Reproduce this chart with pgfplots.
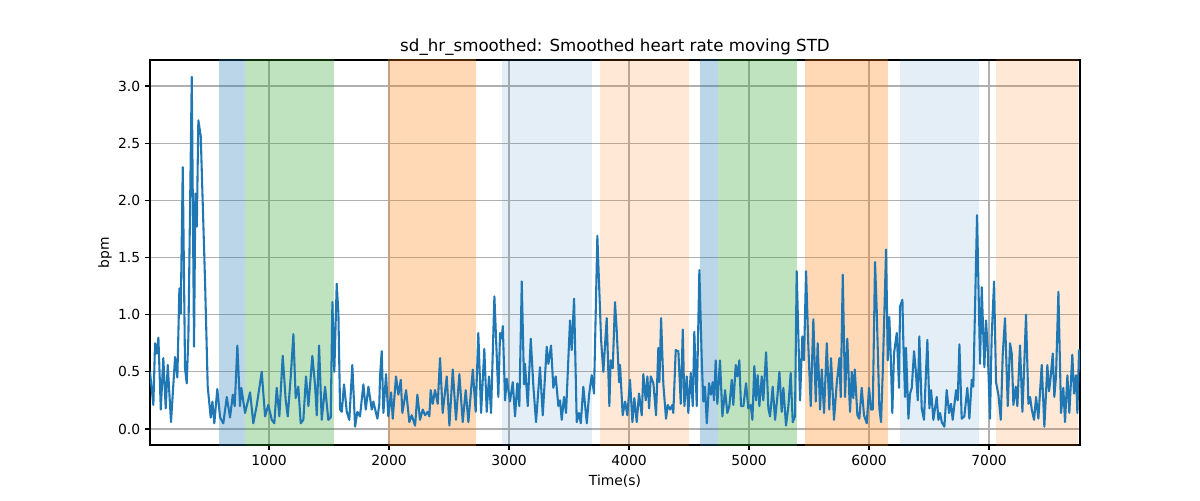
\documentclass[border=0pt]{standalone}
\usepackage{pgfplots}
\pgfplotsset{compat=1.18}
\usepackage{fontspec}
\setmainfont{DejaVu Sans}
\definecolor{tabblue}{HTML}{1F77B4}
\definecolor{tabgreen}{HTML}{2CA02C}
\definecolor{taborange}{HTML}{FF7F0E}
\definecolor{gridgray}{HTML}{B0B0B0}
\begin{document}
\begin{tikzpicture}
\path[use as bounding box] (-108pt,-39.6pt) rectangle (756pt,320.4pt);
\begin{axis}[
  at={(0,0)}, anchor=south west,
  scale only axis, width=669.6pt, height=277.2pt,
  xmin=8, xmax=7758, ymin=-0.14, ymax=3.227,
  xtick={1000,2000,3000,4000,5000,6000,7000},
  ytick={0,0.5,1,1.5,2,2.5,3},
  /pgf/number format/assume math mode=true,
  xticklabel style={/pgf/number format/1000 sep={}, font=\fontsize{10}{12}\selectfont},
  yticklabel style={/pgf/number format/.cd, fixed, fixed zerofill, precision=1, /tikz/.cd, font=\fontsize{10}{12}\selectfont},
  tick align=outside, major tick length=3.5pt,
  tick style={black, line width=0.8pt},
  xtick pos=bottom, ytick pos=left,
  grid=major, major grid style={gridgray, line width=0.8pt},
  axis line style={black, line width=0.8pt},
  xlabel={Time(s)}, ylabel={bpm},
  every axis x label/.style={at={(axis description cs:0.5,-0.0935)}, anchor=center, font=\fontsize{10}{12}\selectfont},
  every axis y label/.style={at={(axis description cs:-0.0484,0.5)}, anchor=center, rotate=90, font=\fontsize{10}{12}\selectfont},
  title={sd\_hr\_smoothed: Smoothed heart rate moving STD},
  every axis title/.style={at={(axis description cs:0.5,1)}, anchor=base, yshift=6pt, font=\fontsize{12}{14}\selectfont},
]
% shaded bands
\addplot[draw=none, fill=tabblue, fill opacity=0.3] coordinates {(583,-1) (583,4) (803,4) (803,-1)} -- cycle;
\addplot[draw=none, fill=tabgreen, fill opacity=0.3] coordinates {(803,-1) (803,4) (1539,4) (1539,-1)} -- cycle;
\addplot[draw=none, fill=taborange, fill opacity=0.3] coordinates {(1988,-1) (1988,4) (2722,4) (2722,-1)} -- cycle;
\addplot[draw=none, fill=tabblue, fill opacity=0.12] coordinates {(2942,-1) (2942,4) (3689,4) (3689,-1)} -- cycle;
\addplot[draw=none, fill=taborange, fill opacity=0.17] coordinates {(3758,-1) (3758,4) (4500,4) (4500,-1)} -- cycle;
\addplot[draw=none, fill=tabblue, fill opacity=0.3] coordinates {(4592,-1) (4592,4) (4744,4) (4744,-1)} -- cycle;
\addplot[draw=none, fill=tabgreen, fill opacity=0.3] coordinates {(4744,-1) (4744,4) (5403,4) (5403,-1)} -- cycle;
\addplot[draw=none, fill=taborange, fill opacity=0.3] coordinates {(5467,-1) (5467,4) (6156,4) (6156,-1)} -- cycle;
\addplot[draw=none, fill=tabblue, fill opacity=0.12] coordinates {(6258,-1) (6258,4) (6917,4) (6917,-1)} -- cycle;
\addplot[draw=none, fill=taborange, fill opacity=0.17] coordinates {(7056,-1) (7056,4) (7745,4) (7745,-1)} -- cycle;
% series
\addplot[tabblue, line width=1.5pt, line join=round, mark=none] table {
x y
8 0.50
36 0.21
50 0.75
64 0.66
78 0.80
98 0.17
119 0.62
139 0.18
156 0.56
183 0.06
217 0.63
236 0.45
253 1.23
264 1.01
281 2.29
300 0.53
314 0.40
328 0.81
356 3.08
375 0.72
386 2.06
398 1.77
411 2.70
431 2.56
467 1.28
489 0.37
514 0.10
528 0.24
544 0.05
569 0.35
592 0.10
619 0.05
648 0.28
675 0.10
698 0.30
714 0.20
736 0.73
758 0.20
769 0.36
800 0.14
842 0.32
869 0.05
898 0.21
939 0.50
967 0.11
994 0.21
1023 0.08
1044 0.05
1064 0.36
1086 0.11
1114 0.64
1139 0.25
1156 0.11
1181 0.46
1203 0.83
1222 0.27
1244 0.37
1264 0.05
1286 0.08
1308 0.46
1328 0.20
1361 0.64
1383 0.39
1398 0.12
1417 0.73
1439 0.08
1467 0.37
1494 0.08
1514 0.10
1528 1.11
1544 0.50
1564 1.27
1578 1.01
1592 0.17
1606 0.15
1625 0.39
1648 0.15
1669 0.08
1694 0.56
1717 0.02
1736 0.15
1758 0.11
1786 0.39
1806 0.17
1828 0.37
1856 0.17
1869 0.24
1903 0.09
1919 0.22
1925 0.46
1939 0.68
1953 0.14
1975 0.48
1994 0.11
2017 0.32
2031 0.09
2058 0.46
2078 0.30
2098 0.43
2111 0.14
2142 0.34
2169 0.06
2189 0.12
2217 0.03
2236 0.30
2258 0.08
2281 0.17
2300 0.12
2322 0.15
2336 0.11
2347 0.34
2364 0.22
2383 0.34
2406 0.22
2425 0.62
2447 0.14
2481 0.46
2503 0.03
2531 0.52
2558 0.08
2586 0.48
2614 0.06
2639 0.34
2661 0.06
2698 0.52
2722 0.15
2744 0.84
2767 0.14
2794 0.70
2814 0.15
2833 0.46
2850 0.14
2878 1.16
2911 0.28
2925 0.84
2939 0.79
2948 0.90
2967 0.25
2981 0.44
3008 0.24
3031 0.41
3050 0.11
3069 0.40
3086 0.20
3106 1.29
3125 0.39
3133 0.57
3156 0.20
3181 0.79
3203 0.37
3225 0.06
3258 0.54
3281 0.12
3314 0.72
3328 0.57
3350 0.73
3369 0.36
3389 0.46
3411 0.20
3425 0.25
3439 0.08
3458 0.28
3475 0.14
3508 0.95
3522 0.69
3542 1.14
3564 0.06
3583 0.14
3598 0.05
3619 0.37
3648 0.05
3667 0.30
3689 0.47
3708 0.31
3736 1.69
3767 0.78
3786 0.50
3814 0.97
3836 0.20
3847 0.60
3864 0.53
3883 1.11
3897 0.87
3917 0.41
3925 0.56
3947 0.12
3967 0.24
3986 0.12
4008 0.43
4028 0.06
4044 0.27
4064 0.06
4083 0.31
4106 0.12
4119 0.48
4139 0.25
4153 0.46
4167 0.18
4181 0.46
4203 0.40
4225 0.12
4244 0.71
4253 0.41
4267 0.97
4286 0.39
4308 0.09
4323 0.21
4342 0.17
4361 0.21
4369 0.14
4389 0.69
4411 0.68
4431 0.22
4448 0.87
4461 0.20
4481 0.46
4494 0.14
4514 0.49
4531 0.20
4544 0.85
4564 0.20
4586 1.39
4606 0.60
4619 0.24
4633 0.37
4648 0.05
4667 0.40
4683 0.30
4697 0.41
4708 0.25
4722 0.60
4736 0.22
4758 0.60
4778 0.11
4800 0.34
4819 0.14
4836 0.20
4856 0.43
4869 0.21
4889 0.56
4903 0.46
4919 0.60
4933 0.20
4953 0.20
4975 0.40
4994 0.18
5014 0.21
5028 0.08
5044 0.55
5058 0.25
5072 0.47
5086 0.20
5106 0.46
5119 0.25
5142 0.67
5161 0.18
5175 0.11
5197 0.37
5217 0.08
5236 0.28
5253 0.50
5272 0.15
5286 0.36
5308 0.03
5328 0.20
5347 0.49
5364 0.06
5383 0.11
5397 1.38
5425 0.25
5444 0.81
5458 0.60
5475 1.38
5494 0.73
5514 0.20
5536 0.96
5556 0.24
5572 0.75
5592 0.17
5606 0.52
5625 0.14
5648 0.75
5669 0.17
5683 0.62
5708 0.08
5731 0.40
5753 0.62
5764 0.28
5781 1.35
5800 0.28
5819 0.79
5836 0.28
5842 0.15
5856 0.50
5869 0.27
5881 0.52
5903 0.12
5919 0.09
5939 0.36
5958 0.12
5981 0.05
6000 0.36
6017 0.17
6031 0.17
6050 1.46
6064 1.04
6086 0.18
6100 0.06
6114 0.49
6142 1.57
6156 0.60
6169 0.98
6181 0.63
6194 0.14
6208 0.66
6231 0.84
6250 0.36
6258 1.07
6278 1.13
6286 0.75
6300 0.28
6308 0.71
6328 0.09
6342 0.31
6356 0.36
6375 0.68
6389 0.52
6406 0.25
6419 0.81
6439 0.18
6458 0.08
6486 0.78
6503 0.18
6517 0.34
6536 0.08
6564 0.28
6578 0.08
6592 0.14
6606 0.06
6628 0.02
6647 0.34
6667 0.14
6683 0.22
6697 0.08
6725 0.34
6739 0.25
6753 0.74
6772 0.09
6794 0.11
6819 0.36
6836 0.09
6856 0.43
6869 0.37
6900 1.87
6925 0.57
6939 1.24
6961 0.54
6975 0.95
6989 0.69
7008 0.09
7022 0.81
7042 1.29
7058 0.41
7078 0.30
7098 0.08
7114 0.65
7133 0.97
7156 0.20
7175 0.75
7189 0.66
7203 0.21
7222 0.37
7236 0.20
7258 0.73
7278 0.15
7292 0.52
7308 1.00
7328 0.22
7342 0.28
7356 0.17
7375 0.08
7392 0.28
7411 0.09
7439 0.56
7461 0.02
7486 0.56
7500 0.33
7514 0.46
7531 0.66
7544 0.28
7558 0.46
7578 1.20
7600 0.14
7619 0.36
7633 0.06
7653 0.47
7669 0.14
7694 0.65
7708 0.31
7725 0.47
7736 0.14
7750 0.69
7758 0.52
};
\end{axis}
\end{tikzpicture}
\end{document}
